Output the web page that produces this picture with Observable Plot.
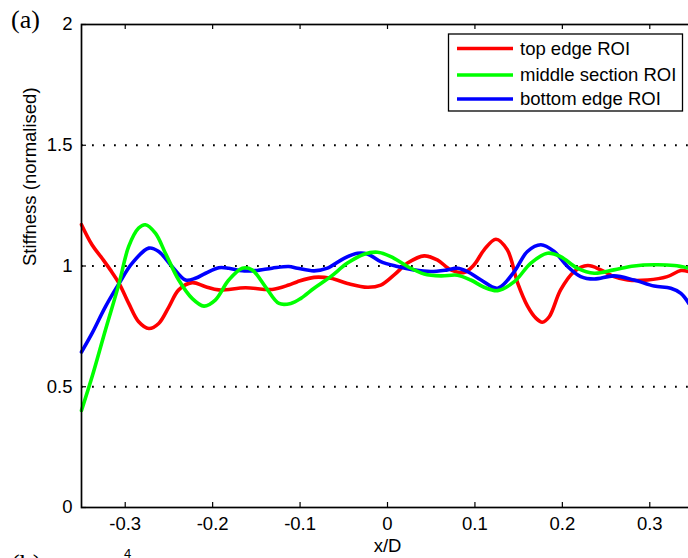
<!DOCTYPE html>
<html>
<head>
<meta charset="utf-8">
<script src="https://cdn.jsdelivr.net/npm/d3@7"></script>
<script src="https://cdn.jsdelivr.net/npm/@observablehq/plot@0.6"></script>
<style>
  html, body { margin: 0; padding: 0; background: #fff; }
  #chart { width: 688px; height: 558px; overflow: hidden; }
</style>
</head>
<body>
<div id="chart"></div>
<script>
// ---- data ----
const seriesNames = ["top edge ROI", "middle section ROI", "bottom edge ROI"];
const seriesColors = ["#ff0000", "#00ff00", "#0000ff"];

const topX = [-0.350, -0.338, -0.3265, -0.317, -0.307, -0.296, -0.2846, -0.273, -0.2617, -0.250, -0.2388, -0.2235, -0.208, -0.193, -0.1625, -0.132, -0.113, -0.103, -0.084, -0.065, -0.0458, -0.0229, -0.0077, 0.0076, 0.0229, 0.042, 0.057, 0.0724, 0.0876, 0.099, 0.1105, 0.124, 0.137, 0.149, 0.160, 0.170, 0.177, 0.185, 0.198, 0.2135, 0.229, 0.244, 0.259, 0.2746, 0.2975, 0.320, 0.3356, 0.3447];
const topY = [1.171, 1.088, 1.032, 0.984, 0.928, 0.845, 0.769, 0.741, 0.762, 0.831, 0.901, 0.931, 0.914, 0.901, 0.910, 0.903, 0.921, 0.935, 0.953, 0.949, 0.928, 0.912, 0.921, 0.963, 1.012, 1.042, 1.025, 0.984, 0.973, 1.005, 1.067, 1.111, 1.067, 0.928, 0.835, 0.783, 0.767, 0.790, 0.901, 0.977, 1.002, 0.984, 0.956, 0.942, 0.942, 0.956, 0.981, 0.977];

const midX = [-0.350, -0.338, -0.3227, -0.307, -0.296, -0.2846, -0.277, -0.2655, -0.254, -0.2388, -0.2235, -0.210, -0.197, -0.1816, -0.166, -0.155, -0.1396, -0.124, -0.1106, -0.099, -0.084, -0.065, -0.0458, -0.0268, -0.0114, 0.0038, 0.0229, 0.042, 0.061, 0.080, 0.0953, 0.1105, 0.126, 0.145, 0.164, 0.183, 0.198, 0.217, 0.2364, 0.259, 0.282, 0.305, 0.328, 0.3447];
const midY = [0.402, 0.540, 0.734, 0.928, 1.081, 1.157, 1.171, 1.136, 1.053, 0.942, 0.866, 0.834, 0.859, 0.942, 0.991, 0.984, 0.914, 0.845, 0.845, 0.866, 0.908, 0.956, 1.012, 1.049, 1.057, 1.039, 0.998, 0.967, 0.959, 0.962, 0.942, 0.912, 0.898, 0.935, 1.012, 1.053, 1.039, 0.991, 0.970, 0.984, 1.000, 1.005, 1.002, 0.991];

const botX = [-0.350, -0.338, -0.3227, -0.307, -0.292, -0.273, -0.2617, -0.2465, -0.231, -0.2197, -0.208, -0.193, -0.1816, -0.166, -0.151, -0.132, -0.113, -0.103, -0.084, -0.0686, -0.0497, -0.0343, -0.0229, -0.0077, 0.0114, 0.030, 0.0495, 0.0686, 0.080, 0.0915, 0.107, 0.126, 0.145, 0.160, 0.1754, 0.1906, 0.206, 0.221, 0.2364, 0.259, 0.282, 0.305, 0.324, 0.3356, 0.3447];
const botY = [0.644, 0.721, 0.831, 0.928, 1.012, 1.074, 1.060, 0.998, 0.942, 0.949, 0.970, 0.993, 0.991, 0.980, 0.981, 0.991, 0.998, 0.991, 0.980, 0.991, 1.032, 1.053, 1.050, 1.018, 0.998, 0.984, 0.977, 0.984, 0.991, 0.977, 0.942, 0.908, 0.977, 1.060, 1.088, 1.060, 0.998, 0.956, 0.946, 0.959, 0.942, 0.917, 0.908, 0.887, 0.845];

const xTicks = [-0.3, -0.2, -0.1, 0, 0.1, 0.2, 0.3];
const yTicks = [0, 0.5, 1, 1.5, 2];
const gridLevels = [0.5, 1, 1.5];
const xDomain = [-0.35, 0.35];
const yDomain = [0, 2];

// ---- build tables ----
const toRows = (xs, ys, name) => xs.map((x, i) => ({x, y: ys[i], series: name}));
const rowsTop = toRows(topX, topY, seriesNames[0]);
const rowsMid = toRows(midX, midY, seriesNames[1]);
const rowsBot = toRows(botX, botY, seriesNames[2]);

const W = 688, H = 558;
const mL = 81, mR = -5, mT = 24, mB = 51;
const innerW = W - mL - mR, innerH = H - mT - mB;
const tickLen = 5;
const fs = 18.5;

const font = "'Liberation Sans', Arial, Helvetica, sans-serif";
const serif = "'Liberation Serif', 'Times New Roman', serif";

const chart = Plot.plot({
  width: W, height: H,
  marginLeft: mL, marginRight: mR, marginTop: mT, marginBottom: mB,
  x: {domain: xDomain},
  y: {domain: yDomain},
  style: {fontFamily: font, fontSize: fs + "px", color: "black", background: "white", overflow: "hidden"},
  marks: [
    Plot.ruleY(gridLevels, {stroke: "black", strokeWidth: 1.8, strokeDasharray: "1.8,9.2", strokeOpacity: 1}),
    Plot.line(rowsTop, {x: "x", y: "y", stroke: seriesColors[0], strokeWidth: 3.6, curve: "catmull-rom"}),
    Plot.line(rowsBot, {x: "x", y: "y", stroke: seriesColors[2], strokeWidth: 3.6, curve: "catmull-rom"}),
    Plot.line(rowsMid, {x: "x", y: "y", stroke: seriesColors[1], strokeWidth: 3.6, curve: "catmull-rom"}),
    Plot.frame({stroke: "black", strokeWidth: 1.7}),
    Plot.tickX(xTicks, {x: d => d, stroke: "black", strokeWidth: 1.2, insetTop: innerH - tickLen}),
    Plot.tickX(xTicks, {x: d => d, stroke: "black", strokeWidth: 1.2, insetBottom: innerH - tickLen}),
    Plot.tickY(yTicks, {y: d => d, stroke: "black", strokeWidth: 1.2, insetRight: innerW - tickLen}),
    Plot.axisX({ticks: xTicks, tickSize: 0, tickPadding: 9, tickFormat: d => String(d), label: null}),
    Plot.axisY({ticks: yTicks, tickSize: 0, tickPadding: 9, tickFormat: d => String(d), label: null}),
    Plot.text(["x/D"], {text: d => d, frameAnchor: "bottom", dy: 44, fontSize: fs}),
    Plot.text(["Stiffness (normalised)"], {text: d => d, frameAnchor: "left", rotate: -90, dx: -51, fontSize: fs})
  ]
});

// ---- legend and panel letters ----
const svg = d3.select(chart);
const leg = svg.append("g").attr("font-family", font).attr("font-size", fs).attr("text-anchor", "start");
leg.append("rect").attr("x", 448.5).attr("y", 34).attr("width", 234).attr("height", 77)
  .attr("fill", "white").attr("stroke", "black").attr("stroke-width", 1.3);
const rowY = [48.5, 75, 99];
seriesNames.forEach((name, i) => {
  leg.append("line").attr("x1", 457).attr("x2", 513).attr("y1", rowY[i]).attr("y2", rowY[i])
    .attr("stroke", seriesColors[i]).attr("stroke-width", 3.6);
  leg.append("text").attr("x", 520).attr("y", rowY[i]).attr("dy", "0.35em").text(name);
});

const extra = svg.append("g").attr("text-anchor", "start");
extra.append("text").attr("x", 11).attr("y", 28).attr("font-family", serif)
  .attr("font-size", 26).text("(a)");
extra.append("text").attr("x", 11).attr("y", 572).attr("font-family", serif)
  .attr("font-size", 26).text("(b)");
extra.append("text").attr("x", 124).attr("y", 558).attr("font-family", font)
  .attr("font-size", 13).text("4");

document.getElementById("chart").appendChild(chart);
</script>
</body>
</html>
